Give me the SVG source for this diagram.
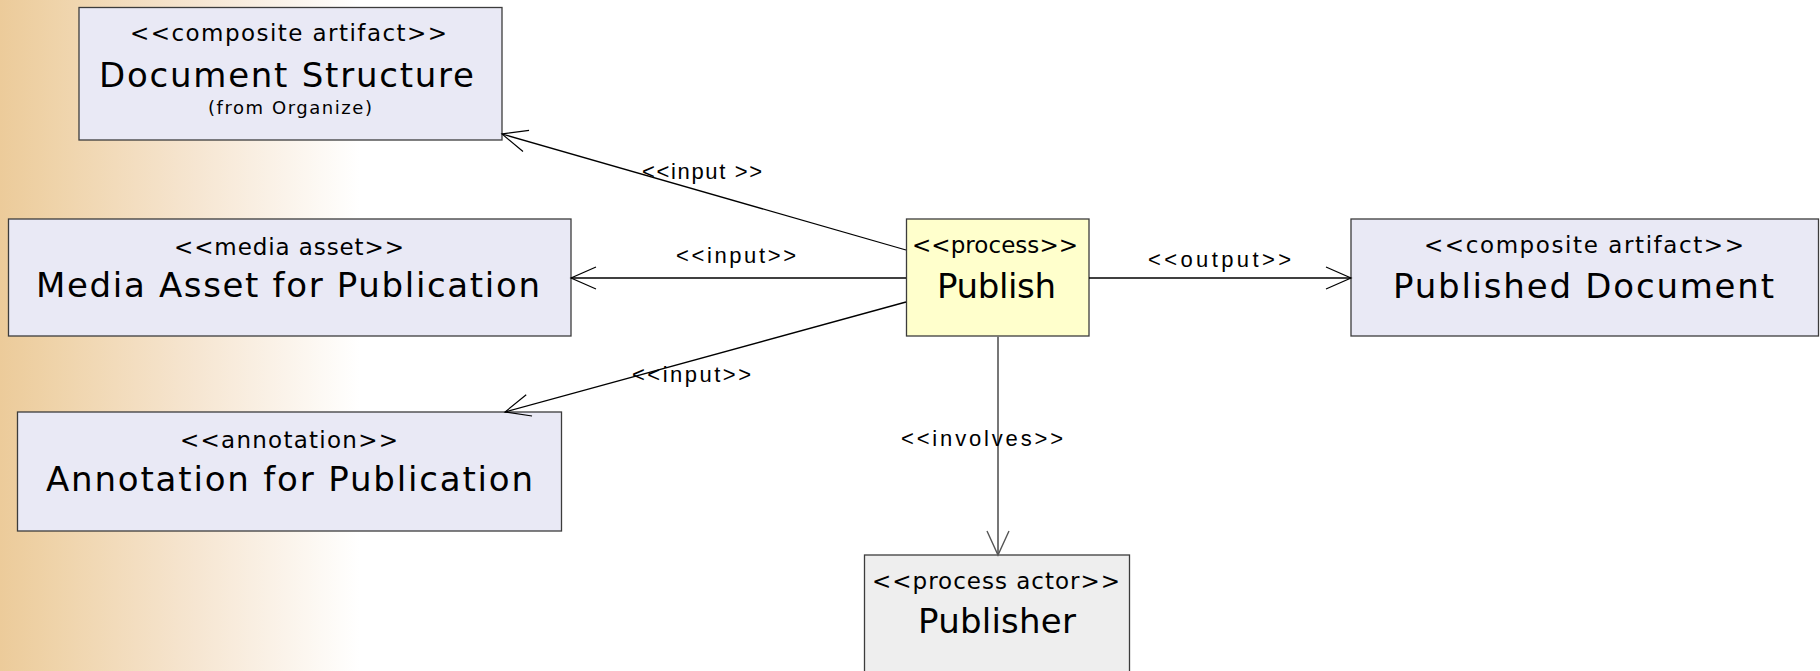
<svg xmlns="http://www.w3.org/2000/svg" width="1820" height="671" viewBox="0 0 1820 671">
<defs>
<linearGradient id="bg" x1="0" y1="0" x2="360" y2="0" gradientUnits="userSpaceOnUse">
<stop offset="0" stop-color="#ECCB9A"/>
<stop offset="0.15" stop-color="#EFD3A9"/>
<stop offset="0.55" stop-color="#F6E6D2"/>
<stop offset="1" stop-color="#FFFFFF"/>
</linearGradient>
<marker id="open" viewBox="-27 -13 29 26" markerWidth="29" markerHeight="26" refX="0" refY="0" markerUnits="userSpaceOnUse" orient="auto">
<path d="M-25,-11 L0,0 L-25,11" fill="none" stroke="#000" stroke-width="1.2"/>
</marker>
<marker id="openg" viewBox="-27 -13 29 26" markerWidth="29" markerHeight="26" refX="0" refY="0" markerUnits="userSpaceOnUse" orient="auto">
<path d="M-24,-11 L0,0 L-24,11" fill="none" stroke="#555" stroke-width="1.4"/>
</marker>
</defs>
<style>
text { font-family: "DejaVu Sans", "Liberation Sans", sans-serif; fill: #000; }
.st { font-size: 23px; }
.nm { font-size: 34px; }
.sm { font-size: 18px; }
.lb { font-family: "Liberation Sans", "DejaVu Sans", sans-serif; font-size: 22px; }
.art { fill: #E9E9F5; stroke: #3C3C3C; stroke-width: 1.3; }
.proc { fill: #FFFFCC; stroke: #3C3C3C; stroke-width: 1.3; }
.act { fill: #EEEEEE; stroke: #3C3C3C; stroke-width: 1.3; }
.ln { stroke: #000; stroke-width: 1.3; fill: none; }
.lng { stroke: #777; stroke-width: 2; fill: none; }
</style>
<rect x="0" y="0" width="1820" height="671" fill="url(#bg)"/>

<g id="doc-structure">
<rect class="art" x="79" y="7.5" width="423" height="132.5"/>
<text class="st" x="130" y="41" textLength="317" lengthAdjust="spacing">&lt;&lt;composite artifact&gt;&gt;</text>
<text class="nm" x="99" y="87" textLength="375" lengthAdjust="spacing">Document Structure</text>
<text class="sm" x="208" y="114" textLength="164" lengthAdjust="spacing">(from Organize)</text>
</g>

<g id="media-asset">
<rect class="art" x="8.5" y="219" width="562.5" height="117"/>
<text class="st" x="174" y="255" textLength="230" lengthAdjust="spacing">&lt;&lt;media asset&gt;&gt;</text>
<text class="nm" x="36" y="297" textLength="504" lengthAdjust="spacing">Media Asset for Publication</text>
</g>

<g id="annotation">
<rect class="art" x="17.5" y="412" width="544" height="119"/>
<text class="st" x="180" y="448" textLength="218" lengthAdjust="spacing">&lt;&lt;annotation&gt;&gt;</text>
<text class="nm" x="46" y="491" textLength="487" lengthAdjust="spacing">Annotation for Publication</text>
</g>

<g id="publish">
<rect class="proc" x="906.5" y="219" width="182.5" height="117"/>
<text class="st" x="912" y="253" textLength="166" lengthAdjust="spacing">&lt;&lt;process&gt;&gt;</text>
<text class="nm" x="937" y="298" textLength="119" lengthAdjust="spacing">Publish</text>
</g>

<g id="published-document">
<rect class="art" x="1351" y="219" width="467.5" height="117"/>
<text class="st" x="1424" y="253" textLength="320" lengthAdjust="spacing">&lt;&lt;composite artifact&gt;&gt;</text>
<text class="nm" x="1393" y="298" textLength="381" lengthAdjust="spacing">Published Document</text>
</g>

<g id="publisher">
<rect class="act" x="864.5" y="555" width="265" height="130"/>
<text class="st" x="872" y="589" textLength="248" lengthAdjust="spacing">&lt;&lt;process actor&gt;&gt;</text>
<text class="nm" x="918" y="633" textLength="158" lengthAdjust="spacing">Publisher</text>
</g>

<g id="connectors">
<path class="ln" d="M906,250 L502,134" marker-end="url(#open)"/>
<path class="ln" d="M906,278 L571,278" marker-end="url(#open)"/>
<path class="ln" d="M906,302 L505,412" marker-end="url(#open)"/>
<path class="ln" d="M1089,278 L1351,278" marker-end="url(#open)"/>
<path class="lng" d="M998,336 L998,555" marker-end="url(#openg)"/>
<text class="lb" x="642" y="179" textLength="120" lengthAdjust="spacing">&lt;&lt;input &gt;&gt;</text>
<text class="lb" x="676" y="263" textLength="120" lengthAdjust="spacing">&lt;&lt;input&gt;&gt;</text>
<text class="lb" x="632" y="382" textLength="119" lengthAdjust="spacing">&lt;&lt;input&gt;&gt;</text>
<text class="lb" x="1148" y="267" textLength="143" lengthAdjust="spacing">&lt;&lt;output&gt;&gt;</text>
<text class="lb" x="901" y="446" textLength="162" lengthAdjust="spacing">&lt;&lt;involves&gt;&gt;</text>
</g>
</svg>
